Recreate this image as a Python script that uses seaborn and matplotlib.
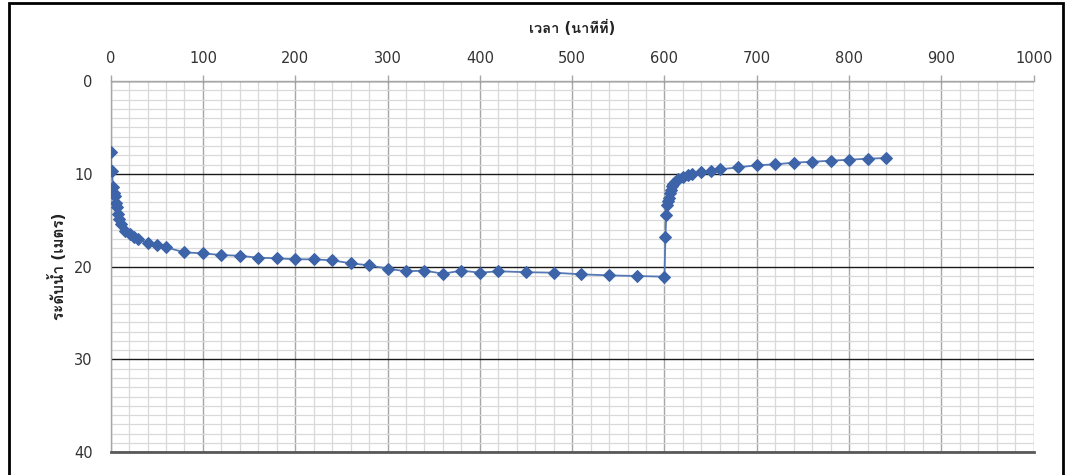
import matplotlib
matplotlib.use("Agg")
import matplotlib.pyplot as plt
from matplotlib import font_manager as fm
from matplotlib.ft2font import FT2Font
from matplotlib.patches import Rectangle
from matplotlib.ticker import MultipleLocator
import numpy as np
import pandas as pd
import seaborn as sns

# Pumping test: drawdown then recovery of the water level
time_min = [0, 1, 3, 4, 5, 6, 7, 8, 9, 11, 16, 21, 25, 30, 40, 50, 60, 80,
            100, 120, 140, 160, 180, 200, 220, 240, 260, 280, 300, 320, 340,
            360, 380, 400, 420, 450, 480, 510, 540, 570, 600,
            601, 602, 603, 604, 605, 606, 607, 608, 609, 611, 615, 620, 625,
            630, 640, 650, 660, 680, 700, 720, 740, 760, 780, 800, 820, 840]
level_m = [7.68, 9.70, 11.39, 12.10, 12.36, 13.18, 13.55, 14.33, 14.90, 15.44,
           16.16, 16.52, 16.84, 17.03, 17.42, 17.64, 17.92, 18.46, 18.57, 18.75,
           18.83, 19.04, 19.10, 19.21, 19.21, 19.32, 19.64, 19.86, 20.22, 20.50,
           20.43, 20.76, 20.43, 20.65, 20.50, 20.60, 20.65, 20.83, 20.94, 21.01,
           21.08,
           16.84, 14.40, 13.33, 12.93, 12.64, 12.10, 11.75, 11.31, 11.10, 10.85,
           10.56, 10.31, 10.13, 10.02, 9.84, 9.66, 9.52, 9.30, 9.08, 8.98, 8.80,
           8.70, 8.59, 8.48, 8.37, 8.30]

x_title = "เวลา (นาทีที่)"
y_title = "ระดับน้ำ (เมตร)"


def thai_family():
    for f in fm.fontManager.ttflist:
        try:
            if 0x0E27 in FT2Font(f.fname).get_charmap():
                return f.name
        except Exception:
            pass
    return None


sns.set_style("white")
thai = thai_family()
families = ["DejaVu Sans"] + ([thai] if thai else [])
plt.rcParams["font.family"] = families

df = pd.DataFrame({"time": time_min, "level": level_m})

fig = plt.figure(figsize=(10.66, 4.75), dpi=100)
ax = fig.add_axes([0.1038, 0.0478, 0.8659, 0.7817])

# chart frame
fig.patches.append(Rectangle((0.0085, -0.05), 0.989, 1.043, transform=fig.transFigure,
                             fill=False, edgecolor="black", linewidth=2.0))

ax.set_xlim(0, 1000)
ax.set_ylim(40, 0)
ax.xaxis.set_major_locator(MultipleLocator(100))
ax.xaxis.set_minor_locator(MultipleLocator(20))
ax.yaxis.set_major_locator(MultipleLocator(10))
ax.yaxis.set_minor_locator(MultipleLocator(1))

ax.grid(which="minor", axis="both", color="#d9d9d9", linewidth=0.9)
ax.grid(which="major", axis="x", color="#a6a6a6", linewidth=1.0)
ax.grid(which="major", axis="y", color="#1a1a1a", linewidth=1.0)
ax.set_axisbelow(True)

sns.lineplot(data=df, x="time", y="level", ax=ax, sort=False, estimator=None,
             color="#5679b5", linewidth=1.3, marker="D", markersize=6.5,
             markerfacecolor="#3d64a8", markeredgecolor="#3d64a8", zorder=5)

ax.xaxis.tick_top()
ax.xaxis.set_label_position("top")
ax.tick_params(axis="x", which="major", direction="out", length=4.3, width=1,
               color="#a6a6a6", labelsize=10.5, labelcolor="#333333", pad=6.5)
ax.tick_params(axis="y", which="major", direction="out", length=4.3, width=1,
               color="#a6a6a6", labelsize=10.5, labelcolor="#333333", pad=8.5)
ax.tick_params(which="minor", length=0)

ax.spines["right"].set_visible(False)
ax.spines["top"].set_color("#a6a6a6")
ax.spines["left"].set_color("#a6a6a6")
ax.spines["bottom"].set_color("#595959")
ax.spines["bottom"].set_linewidth(2.0)
ax.spines["top"].set_linewidth(1.0)
ax.spines["left"].set_linewidth(1.0)

ax.set_xlabel(x_title, fontsize=10.5, fontweight="bold", color="#222222", labelpad=13)
ax.set_ylabel(y_title, fontsize=11, fontweight="bold", color="#222222", labelpad=5)

fig.savefig("out.png", dpi=100)
